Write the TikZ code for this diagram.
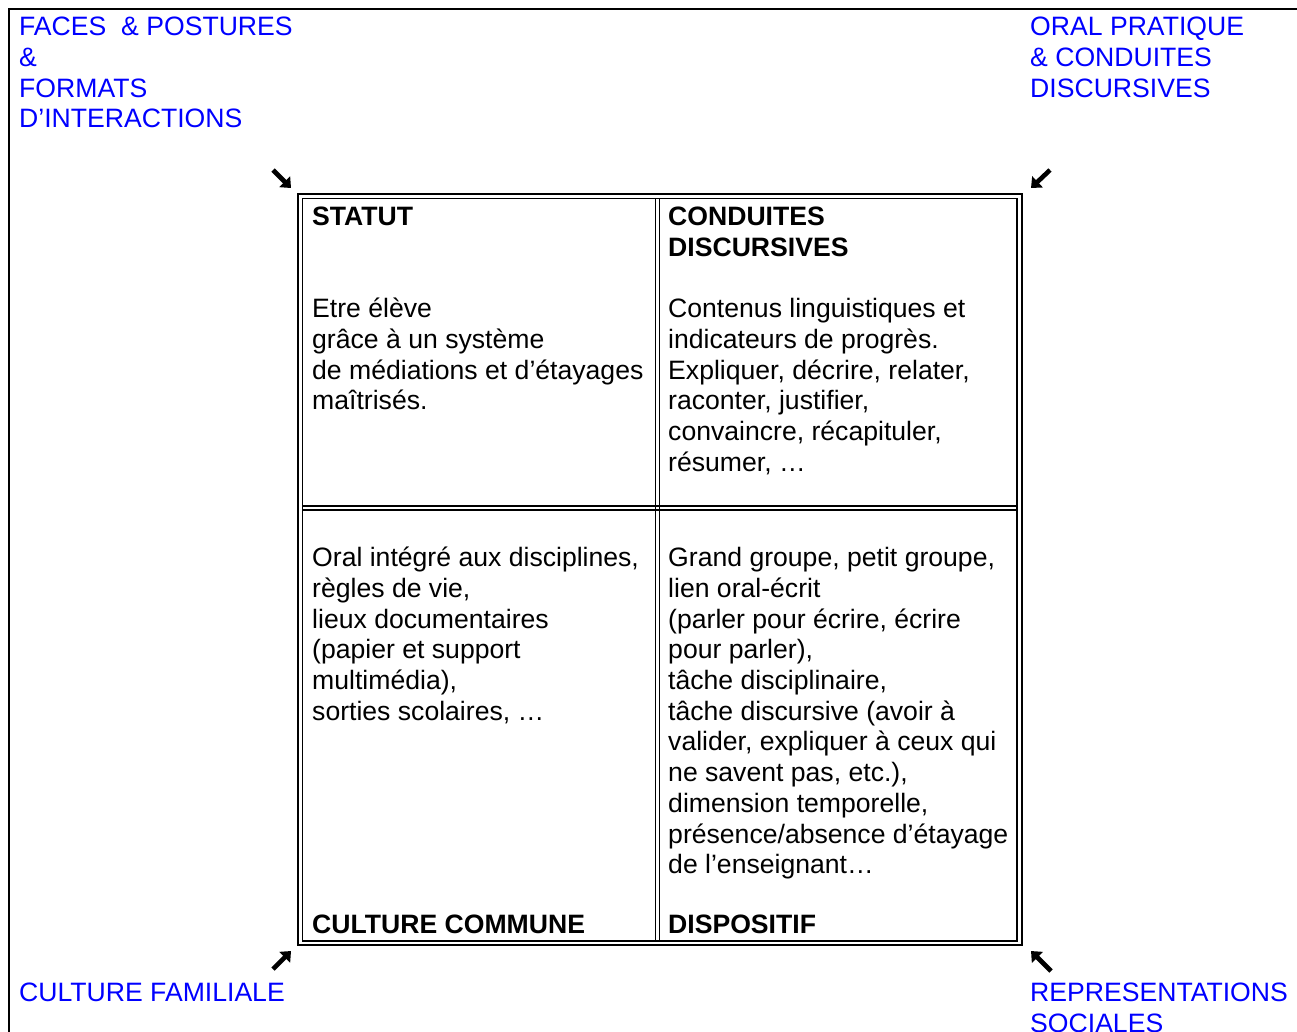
\documentclass[tikz,border=0pt]{standalone}
\usepackage{fontspec}
\setmainfont{Liberation Sans}
\usetikzlibrary{arrows.meta}
\definecolor{lblue}{RGB}{0,0,255}
\begin{document}
\begin{tikzpicture}[x=1pt,y=-1pt,
  txt/.style={anchor=north west, inner sep=0pt, align=left, font=\fontsize{26.6}{30.7}\selectfont},
  lbl/.style={txt, text=lblue},
  thinl/.style={line width=1.3pt},
  thickl/.style={line width=2.8pt},
  corner/.style={line width=4.6pt, -{Triangle[length=9pt,width=15pt]}}]
\useasboundingbox (0,0) rectangle (1297,1031);
% page frame
\coordinate (f1) at (9,1040);
\coordinate (f2) at (9,9);
\coordinate (f3) at (1310,9);
\draw[line width=1.8pt] (f1) -- (f2) -- (f3);
% table
\draw[thickl] (298,194) rectangle (1022,945);
\draw[thinl] (302.5,198.5) rectangle (1017,941);
\draw[thinl] (655.5,198.5) -- (655.5,941);
\draw[thinl] (659.5,198.5) -- (659.5,941);
\draw[thinl] (302.5,506) -- (1017,506);
\draw[thinl] (302.5,510) -- (1017,510);
% cell texts
\node[txt] (statut) at (312,204.0) {\strut\textbf{STATUT}};
\node[txt] (etre) at (312,296.1) {\strut Etre élève\\grâce à un système\\de médiations et d’étayages\\maîtrisés.};
\node[txt] (conduites) at (668,204.0) {\strut\textbf{CONDUITES}\\\textbf{DISCURSIVES}};
\node[txt] (contenus) at (668,296.1) {\strut Contenus linguistiques et\\indicateurs de progrès.\\Expliquer, décrire, relater,\\raconter, justifier,\\convaincre, récapituler,\\résumer, …};
\node[txt] (oral) at (312,545.0) {\strut Oral intégré aux disciplines,\\règles de vie,\\lieux documentaires\\(papier et support\\multimédia),\\sorties scolaires, …};
\node[txt] (grand) at (668,545.0) {\strut Grand groupe, petit groupe,\\lien oral-écrit\\(parler pour écrire, écrire\\pour parler),\\tâche disciplinaire,\\tâche discursive (avoir à\\valider, expliquer à ceux qui\\ne savent pas, etc.),\\dimension temporelle,\\présence/absence d’étayage\\de l’enseignant…};
\node[txt] (cc) at (312,912.0) {\strut\textbf{CULTURE COMMUNE}};
\node[txt] (disp) at (668,912.0) {\strut\textbf{DISPOSITIF}};
% outside labels
\node[lbl] (faces) at (19,14.0) {\strut FACES~ \& POSTURES\\\&\\FORMATS\\D’INTERACTIONS};
\node[lbl] (oralp) at (1030,14.0) {\strut ORAL PRATIQUE\\\& CONDUITES\\DISCURSIVES};
\node[lbl] (famil) at (19,980.0) {\strut CULTURE FAMILIALE};
\node[lbl] (repr) at (1030,980.0) {\strut REPRESENTATIONS\\SOCIALES};
% corner arrows
\coordinate (a1s) at (273,170); \coordinate (a1e) at (291,188);
\coordinate (a2s) at (1050,170); \coordinate (a2e) at (1031,188);
\coordinate (a3s) at (273,969); \coordinate (a3e) at (291,951);
\coordinate (a4s) at (1051,971); \coordinate (a4e) at (1031,951);
\draw[corner] (a1s) -- (a1e);
\draw[corner] (a2s) -- (a2e);
\draw[corner] (a3s) -- (a3e);
\draw[corner] (a4s) -- (a4e);
\end{tikzpicture}
\end{document}
